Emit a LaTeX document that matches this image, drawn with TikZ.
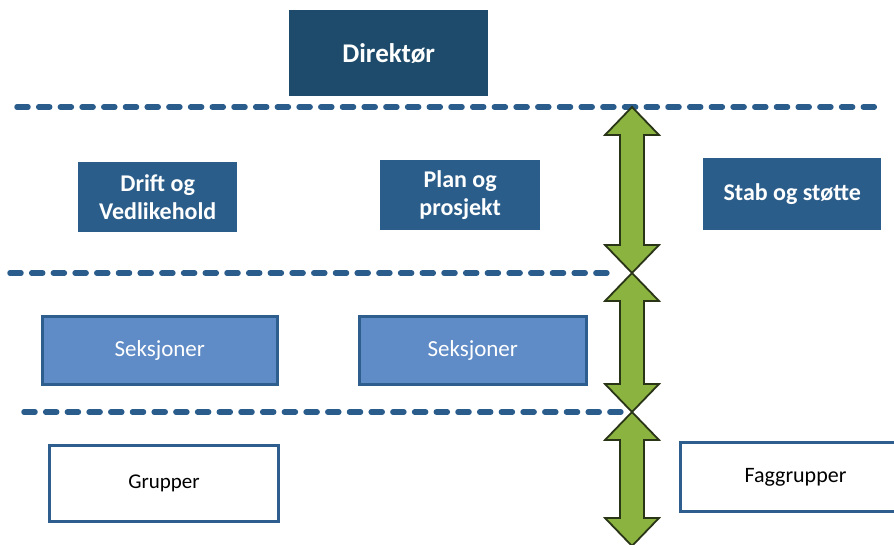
\documentclass[tikz,border=0pt]{standalone}
\usepackage{fontspec}
\setmainfont{Carlito}
\usetikzlibrary{calc}
\definecolor{navy}{HTML}{1E4B6B}
\definecolor{midblue}{HTML}{2B5D8A}
\definecolor{lightblue}{HTML}{5F8BC6}
\definecolor{edgeblue}{HTML}{2E5E8E}
\definecolor{dashblue}{HTML}{2A5C8C}
\definecolor{agreen}{HTML}{8AB33F}
\definecolor{aedge}{HTML}{2A3518}
\tikzset{
  x=1pt,y=-1pt,
  darkbox/.style={fill=midblue,draw=none,text=white,font=\fontsize{24}{28}\selectfont\bfseries,align=center,inner sep=0pt,anchor=north west},
  sekbox/.style={fill=lightblue,draw=edgeblue,line width=2.5pt,text=white,font=\fontsize{23}{27}\selectfont,align=center,inner sep=0pt,anchor=north west},
  whitebox/.style={fill=white,draw=edgeblue,line width=3pt,text=black,font=\fontsize{21}{24}\selectfont,align=center,inner sep=0pt,anchor=north west},
  levelline/.style={draw=dashblue,line width=5.5pt,line cap=round,dash pattern=on 11pt off 10.7pt},
  greenarrow/.style={fill=agreen,draw=aedge,line width=1.8pt,line join=miter},
}
\newcommand{\garrow}[3]{% x, top tip y, bottom tip y
  \draw[greenarrow] (#1,#2) -- ++(27,28) -- ++(-15,0) -- ($(#1+12,#3-28)$) -- ++(15,0) -- (#1,#3)
    -- ++(-27,-28) -- ++(15,0) -- ($(#1-12,#2+28)$) -- ++(-15,0) -- cycle;}
\begin{document}
\begin{tikzpicture}
\useasboundingbox (0,0) rectangle (894,545);
% level lines
\coordinate (l1a) at (17,107); \coordinate (l1b) at (880,107);
\coordinate (l2a) at (10,273); \coordinate (l2b) at (615,273);
\coordinate (l3a) at (24,412); \coordinate (l3b) at (622,412);
\draw[levelline] (l1a) -- (l1b);
\draw[levelline] (l2a) -- (l2b);
\draw[levelline] (l3a) -- (l3b);
% boxes
\node[darkbox,fill=navy,minimum width=199pt,minimum height=86pt,font=\fontsize{27}{30}\selectfont\bfseries] (dir) at (289,10) {Direktør};
\node[darkbox,minimum width=159pt,minimum height=70pt] (drift) at (78,162) {Drift og\\Vedlikehold};
\node[darkbox,minimum width=160pt,minimum height=70pt] (plan) at (380,160) {Plan og\\prosjekt};
\node[darkbox,minimum width=178pt,minimum height=72pt] (stab) at (703,158) {Stab og støtte};
\node[sekbox,minimum width=235pt,minimum height=68pt] (sek1) at (41,315) {Seksjoner};
\node[sekbox,minimum width=227pt,minimum height=68pt] (sek2) at (358,315) {Seksjoner};
\node[whitebox,minimum width=229pt,minimum height=76pt] (grp) at (48,444) {Grupper};
\node[whitebox,minimum width=230pt,minimum height=69pt,font=\fontsize{22}{24}\selectfont] (fag) at (679,441) {Faggrupper};
% arrows
\garrow{632}{107}{273}
\garrow{632}{273}{412}
\garrow{632}{412}{546}
\end{tikzpicture}
\end{document}
